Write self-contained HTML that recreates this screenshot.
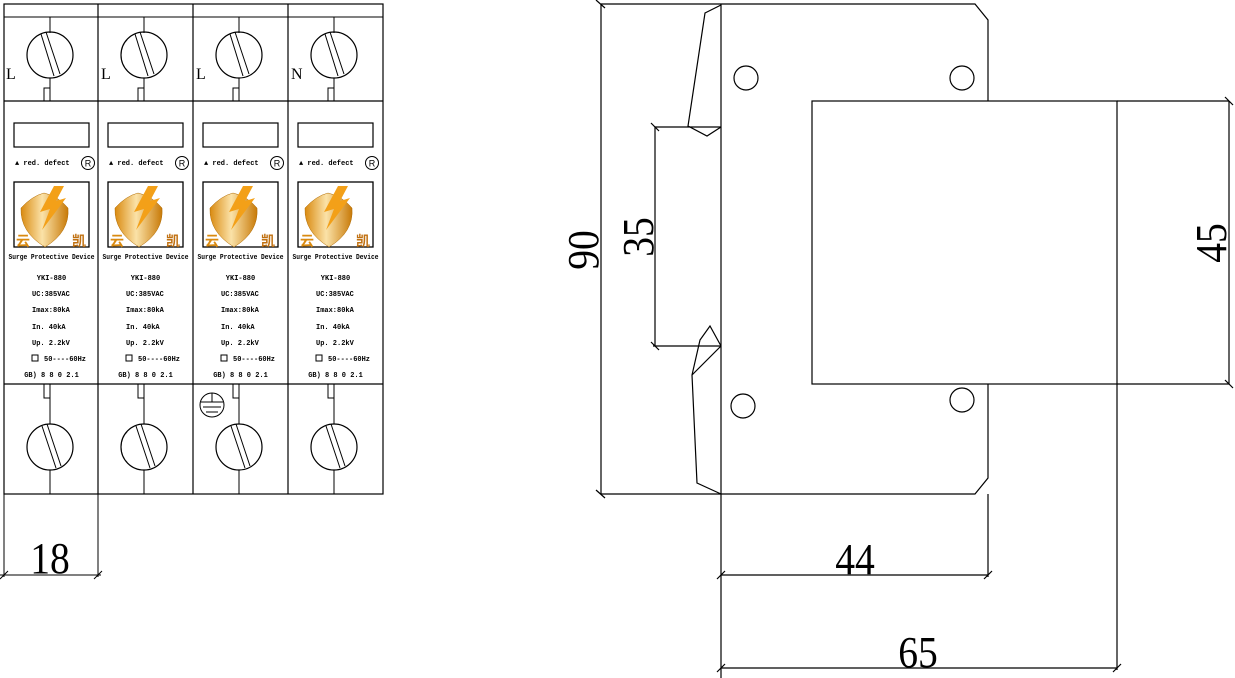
<!DOCTYPE html>
<html><head><meta charset="utf-8"><style>
html,body{margin:0;padding:0;background:#fff;width:1235px;height:678px;overflow:hidden}
svg{display:block}
.s{font-family:"Liberation Mono",monospace;font-weight:bold;font-size:7px;fill:#000}
.d{font-family:"Liberation Serif",serif;fill:#000}
</style></head><body>
<svg width="1235" height="678" viewBox="0 0 1235 678" xmlns="http://www.w3.org/2000/svg">
<defs>
<linearGradient id="g" x1="0" x2="1" y1="0" y2="0">
<stop offset="0" stop-color="#d98a10"/><stop offset="0.45" stop-color="#fbe2a8"/><stop offset="1" stop-color="#c87a08"/>
</linearGradient>
<g id="p">
<line x1="0" y1="17" x2="95" y2="17" stroke="#000"/>
<line x1="46" y1="17" x2="46" y2="33" stroke="#000"/>
<circle cx="46" cy="55" r="23" fill="none" stroke="#000" stroke-width="1.2"/>
<line x1="37" y1="34" x2="50" y2="76" stroke="#000"/>
<line x1="42" y1="32" x2="56" y2="74" stroke="#000"/>
<line x1="46" y1="78" x2="46" y2="88" stroke="#000"/>
<rect x="40" y="88" width="6" height="13" fill="none" stroke="#000"/>
<rect x="10" y="123" width="75" height="24" fill="none" stroke="#000" stroke-width="1.2"/>
<text x="11" y="165" class="s">▲ red.  defect</text>
<circle cx="84" cy="163" r="6.5" fill="none" stroke="#000"/>
<text x="84" y="166.5" font-family="Liberation Sans" font-size="9" text-anchor="middle">R</text>
<rect x="10" y="182" width="75" height="65" fill="none" stroke="#000" stroke-width="1.3"/>
<path d="M17 208 Q28 196 40 193 Q54 196 64 208 Q66 232 41 247 Q16 232 17 208Z" fill="url(#g)" stroke="#b06a00" stroke-width="0.5"/>
<path d="M50 186 L36 212 L46 209 L38 230 L62 198 L52 201 L60 186Z" fill="#f3a018"/>
<text x="12" y="246" font-family="Noto Sans CJK SC" font-size="14" font-weight="bold" fill="#d98a10">云</text>
<text x="68" y="246" font-family="Noto Sans CJK SC" font-size="14" font-weight="bold" fill="#c07010">凯</text>
<text x="47.5" y="259" class="s" text-anchor="middle" textLength="86" lengthAdjust="spacingAndGlyphs">Surge Protective Device</text>
<text x="47.5" y="280" class="s" text-anchor="middle">YKI-880</text>
<text x="28" y="296" class="s">UC:385VAC</text>
<text x="28" y="312" class="s">Imax:80kA</text>
<text x="28" y="329" class="s">In.  40kA</text>
<text x="28" y="345" class="s">Up.  2.2kV</text>
<rect x="28" y="355" width="6" height="6" fill="none" stroke="#000"/>
<text x="40" y="361" class="s">50----60Hz</text>
<text x="47.5" y="377" class="s" text-anchor="middle">GB) 8 8 0 2.1</text>
<rect x="40" y="384" width="6" height="14" fill="none" stroke="#000"/>
<line x1="46" y1="398" x2="46" y2="424" stroke="#000"/>
<circle cx="46" cy="447" r="23" fill="none" stroke="#000" stroke-width="1.2"/>
<line x1="38" y1="426" x2="52" y2="468" stroke="#000"/>
<line x1="43" y1="424" x2="57" y2="466" stroke="#000"/>
<line x1="46" y1="470" x2="46" y2="494" stroke="#000"/>
</g>
</defs>
<g fill="none" stroke="#000" stroke-width="1.2">
<rect x="4" y="4" width="379" height="490"/>
<line x1="98" y1="4" x2="98" y2="494"/><line x1="193" y1="4" x2="193" y2="494"/><line x1="288" y1="4" x2="288" y2="494"/>
<line x1="4" y1="101" x2="383" y2="101"/><line x1="4" y1="384" x2="383" y2="384"/>
</g>
<use href="#p" x="4"/><use href="#p" x="98"/><use href="#p" x="193"/><use href="#p" x="288"/>
<g class="d" font-size="16"><text x="6" y="79">L</text><text x="101" y="79">L</text><text x="196" y="79">L</text><text x="291" y="79">N</text></g>
<circle cx="212" cy="405" r="12" fill="none" stroke="#000"/>
<g stroke="#000"><line x1="212" y1="393" x2="212" y2="402"/><line x1="201" y1="402" x2="223" y2="402"/><line x1="203" y1="407" x2="221" y2="407"/><line x1="206" y1="412" x2="218" y2="412"/></g>
<g stroke="#000" fill="none">
<line x1="4" y1="494" x2="4" y2="577"/><line x1="98" y1="494" x2="98" y2="577"/>
<line x1="0" y1="575" x2="101" y2="575"/>
<line x1="0" y1="579" x2="8" y2="571"/><line x1="94" y1="579" x2="102" y2="571"/>
</g>
<text x="50" y="573" class="d" font-size="44" text-anchor="middle" transform="translate(50 0) scale(0.9 1) translate(-50 0)">18</text>
<g stroke="#000" fill="none" stroke-width="1.2">
<line x1="601" y1="4" x2="601" y2="494"/>
<line x1="596" y1="0" x2="605" y2="8"/><line x1="596" y1="490" x2="605" y2="498"/>
<path d="M601 4 H975 L988 20 V101"/>
<path d="M988 384 V478 L975 494 H601"/>
<line x1="721" y1="4" x2="721" y2="678"/>
<rect x="812" y="101" width="305" height="283"/>
<circle cx="746" cy="78" r="12"/><circle cx="962" cy="78" r="12"/>
<circle cx="743" cy="406" r="12"/><circle cx="962" cy="400" r="12"/>
<path d="M721 5 L705 13 L688 126 L707 136 L721 127"/>
<line x1="655" y1="127" x2="721" y2="127"/>
<line x1="655" y1="127" x2="655" y2="346"/>
<line x1="651" y1="123" x2="659" y2="131"/><line x1="651" y1="342" x2="659" y2="350"/>
<line x1="653" y1="346" x2="721" y2="346"/>
<path d="M721 346 L710 326 L700 340 L692 375 L697 483 L721 494"/>
<line x1="721" y1="346" x2="692" y2="375"/>
<line x1="1117" y1="101" x2="1229" y2="101"/>
<line x1="1117" y1="384" x2="1229" y2="384"/>
<line x1="1229" y1="101" x2="1229" y2="384"/>
<line x1="1225" y1="97" x2="1233" y2="105"/><line x1="1225" y1="380" x2="1233" y2="388"/>
<line x1="1117" y1="384" x2="1117" y2="670"/>
<line x1="988" y1="494" x2="988" y2="577"/>
<line x1="721" y1="575" x2="988" y2="575"/>
<line x1="717" y1="579" x2="725" y2="571"/><line x1="984" y1="579" x2="992" y2="571"/>
<line x1="721" y1="668" x2="1117" y2="668"/>
<line x1="717" y1="672" x2="725" y2="664"/><line x1="1113" y1="672" x2="1121" y2="664"/>
</g>
<g class="d" font-size="44">
<text x="855" y="574" text-anchor="middle" transform="translate(855 0) scale(0.9 1) translate(-855 0)">44</text>
<text x="918" y="667" text-anchor="middle" transform="translate(918 0) scale(0.9 1) translate(-918 0)">65</text>
<text transform="translate(598 250) rotate(-90) scale(0.9 1)" text-anchor="middle">90</text>
<text transform="translate(653 237) rotate(-90) scale(0.9 1)" text-anchor="middle">35</text>
<text transform="translate(1226 243) rotate(-90) scale(0.9 1)" text-anchor="middle">45</text>
</g>
</svg>
</body></html>
